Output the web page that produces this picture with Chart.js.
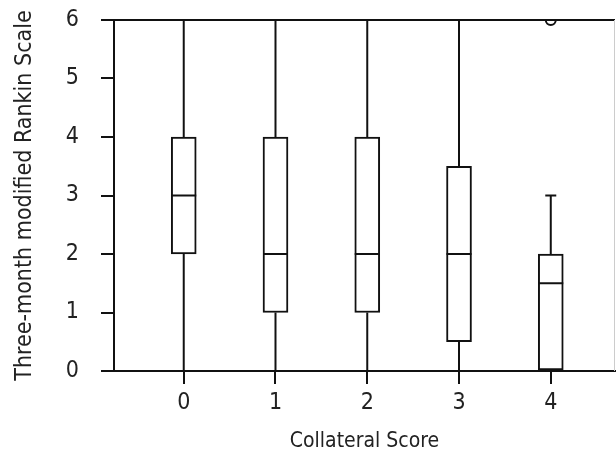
<!DOCTYPE html>
<html>
<head>
<meta charset="utf-8">
<script src="https://cdn.jsdelivr.net/npm/chart.js@4.4.1/dist/chart.umd.min.js"></script>
<style>
  html, body { margin: 0; padding: 0; background: #fff; }
  #wrap { width: 616px; height: 457px; }
</style>
</head>
<body>
<div id="wrap"><canvas id="boxChart" width="616" height="457"></canvas></div>
<script>
// Box plot: mRS at three months by collateral score
const categories  = ['0', '1', '2', '3', '4'];
const whiskerLow  = [0, 0, 0, 0, 0];
const q1          = [2, 1, 1, 0.5, 0];
const medians     = [3, 2, 2, 2, 1.5];
const q3          = [4, 4, 4, 3.5, 2];
const whiskerHigh = [6, 6, 6, 6, 3];
const outliers    = [[], [], [], [], [6]];
const yTicks      = [0, 1, 2, 3, 4, 5, 6];

const FONT = "'Liberation Sans Narrow', 'DejaVu Sans Condensed', 'Arial Narrow', sans-serif";
const BOX_W = 25;
const CAP_W = 11;

// whiskers, caps, medians and the frame
const boxExtras = {
    id: 'boxExtras',
    afterDatasetsDraw(chart) {
        const { ctx, chartArea, scales: { x, y } } = chart;
        ctx.save();
        ctx.strokeStyle = '#111';
        ctx.lineWidth = 2;
        const seg = (x1, y1, x2, y2) => {
            ctx.beginPath(); ctx.moveTo(x1, y1); ctx.lineTo(x2, y2); ctx.stroke();
        };
        categories.forEach((c, i) => {
            const px = x.getPixelForValue(i);
            const yl = y.getPixelForValue(whiskerLow[i]);
            const yh = y.getPixelForValue(whiskerHigh[i]);
            seg(px, yl, px, y.getPixelForValue(q1[i]));
            seg(px, y.getPixelForValue(q3[i]), px, yh);
            seg(px - CAP_W / 2, yl, px + CAP_W / 2, yl);
            seg(px - CAP_W / 2, yh, px + CAP_W / 2, yh);
            const ym = y.getPixelForValue(medians[i]);
            seg(px - BOX_W / 2, ym, px + BOX_W / 2, ym);
        });
        // top border
        seg(chartArea.left, chartArea.top, chartArea.right, chartArea.top);
        // faint right border
        ctx.strokeStyle = '#ccc';
        ctx.lineWidth = 1;
        seg(chartArea.right - 0.5, chartArea.top, chartArea.right - 0.5, chartArea.bottom);
        ctx.restore();
    }
};

const boxData = categories.map((c, i) => ({ x: i, y: [q1[i], q3[i]] }));
const outlierData = [];
outliers.forEach((list, i) => list.forEach(v => outlierData.push({ x: i, y: v })));

const noPad = s => { s.paddingTop = 0; s.paddingBottom = 0; s.paddingLeft = 0; s.paddingRight = 0; };

new Chart(document.getElementById('boxChart'), {
    type: 'scatter',
    data: {
        datasets: [
            {
                type: 'bar',
                data: boxData,
                backgroundColor: '#fff',
                borderColor: '#111',
                borderWidth: 2,
                borderSkipped: false,
                barThickness: BOX_W
            },
            {
                type: 'scatter',
                data: outlierData,
                pointRadius: 5,
                pointBorderWidth: 2,
                pointBorderColor: '#111',
                pointBackgroundColor: '#fff',
                clip: 0
            }
        ]
    },
    options: {
        responsive: false,
        animation: false,
        devicePixelRatio: 1,
        layout: { autoPadding: false, padding: { top: 20, right: 1, bottom: 0, left: 0 } },
        plugins: { legend: { display: false }, tooltip: { enabled: false } },
        scales: {
            x: {
                type: 'linear',
                min: -0.76,
                max: 4.7,
                offset: false,
                afterBuildTicks: s => { s.ticks = categories.map((c, i) => ({ value: i })); },
                afterFit: s => { s.height = 86; noPad(s); },
                ticks: {
                    callback: v => categories[v],
                    color: '#222',
                    font: { family: FONT, size: 23 },
                    padding: 5,
                    maxRotation: 0
                },
                grid: { offset: false, drawOnChartArea: false, tickLength: 13, color: '#111', lineWidth: 2 },
                border: { color: '#111', width: 2 },
                title: {
                    display: true,
                    text: 'Collateral Score',
                    color: '#222',
                    font: { family: FONT, size: 21 },
                    padding: { top: 0, bottom: 3 }
                }
            },
            y: {
                type: 'linear',
                min: 0,
                max: 6,
                afterBuildTicks: s => { s.ticks = yTicks.map(v => ({ value: v })); },
                afterFit: s => { s.width = 114; noPad(s); },
                ticks: {
                    color: '#222',
                    font: { family: FONT, size: 23 },
                    padding: 22
                },
                grid: { drawOnChartArea: false, tickLength: 13, color: '#111', lineWidth: 2 },
                border: { color: '#111', width: 2 },
                title: {
                    display: true,
                    text: 'Three-month modified Rankin Scale',
                    color: '#222',
                    font: { family: FONT, size: 23 },
                    padding: { top: 11, bottom: 0 }
                }
            }
        }
    },
    plugins: [boxExtras]
});
</script>
</body>
</html>
